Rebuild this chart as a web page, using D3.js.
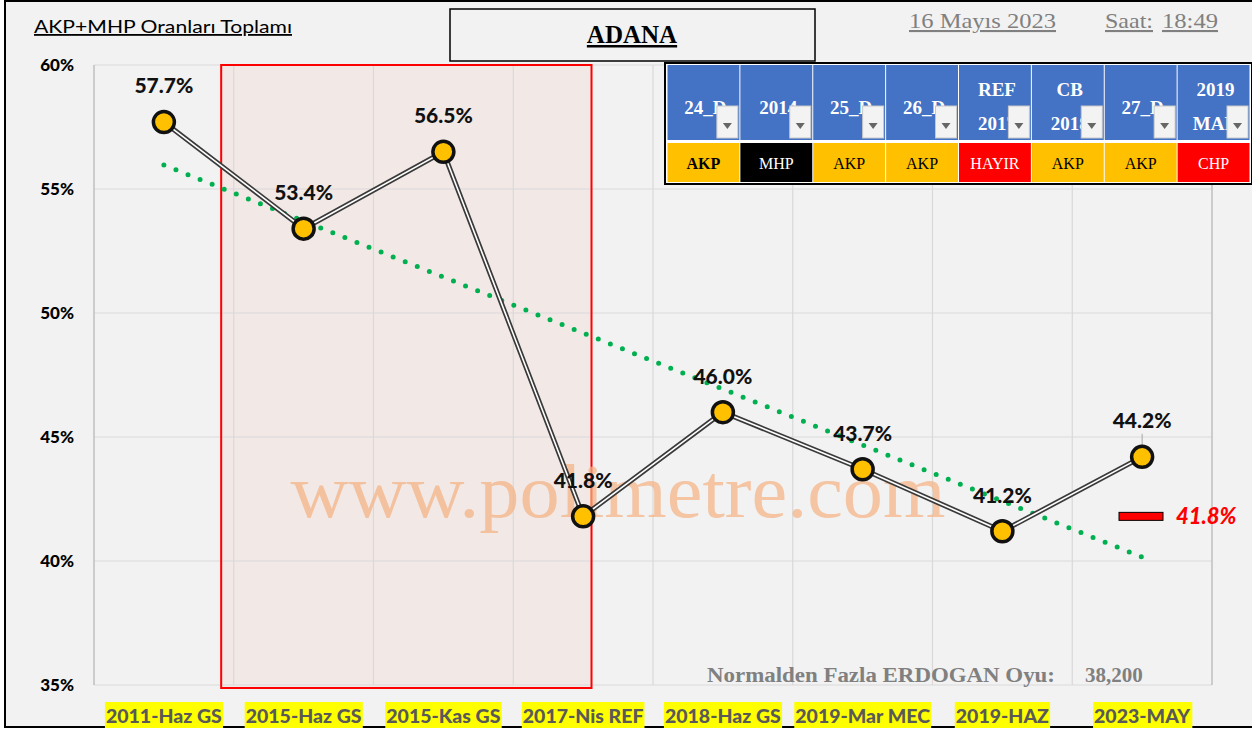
<!DOCTYPE html>
<html>
<head>
<meta charset="utf-8">
<script src="https://cdn.jsdelivr.net/npm/d3@7"></script>
<style>
  body { margin: 0; background: #fff; }
  svg { display: block; }
</style>
</head>
<body>
<svg width="1252" height="731"></svg>
<script>
const categories = ["2011-Haz GS", "2015-Haz GS", "2015-Kas GS", "2017-Nis REF",
                    "2018-Haz GS", "2019-Mar MEC", "2019-HAZ", "2023-MAY"];
const values = [57.7, 53.4, 56.5, 41.8, 46.0, 43.7, 41.2, 44.2];
const yTicks = [35, 40, 45, 50, 55, 60];

const tableHeaders = [["24_D"], ["2014"], ["25_D"], ["26_D"], ["REF", "2017"], ["CB", "2018"], ["27_D"], ["2019", "MAR"]];
const tableWinners = ["AKP", "MHP", "AKP", "AKP", "HAYIR", "AKP", "AKP", "CHP"];
const winnerColors = {"AKP": "#FFC000", "MHP": "#000000", "HAYIR": "#FF0000", "CHP": "#FF0000"};

const refValue = 41.8;
const extraVotes = "38,200";

const svg = d3.select("svg");
const sans = "Lato, 'Open Sans', sans-serif";
const serif = "'Liberation Serif', 'DejaVu Serif', serif";

// background + outer frame
svg.append("rect").attr("x", 0).attr("y", 0).attr("width", 1252).attr("height", 731).attr("fill", "#fff");
svg.append("rect").attr("x", 5).attr("y", 1).attr("width", 1250).attr("height", 726)
    .attr("fill", "#f2f2f2").attr("stroke", "#000").attr("stroke-width", 2);

const xScale = d3.scaleBand()
    .domain(categories)
    .range([94, 1212]);

const yScale = d3.scaleLinear()
    .domain([35, 60])
    .range([685, 65]);

const xc = d => xScale(d) + xScale.bandwidth() / 2;

// index scale for annotation shapes
const xi = d3.scaleLinear().domain([-0.5, categories.length - 0.5]).range([94, 1212]);

// red highlight box (fill)
svg.append("rect")
    .attr("x", xi(0.41)).attr("y", yScale(60))
    .attr("width", xi(3.06) - xi(0.41)).attr("height", yScale(35) - yScale(60) + 3)
    .attr("fill", "#f2e9e6");

// gridlines
const grid = svg.append("g");
grid.selectAll("line.h").data(yTicks).enter().append("line")
    .attr("x1", 94).attr("x2", 1212)
    .attr("y1", d => yScale(d)).attr("y2", d => yScale(d))
    .attr("stroke", "#d9d9d9").attr("stroke-width", 1.2);
grid.selectAll("line.v").data(categories.slice(1)).enter().append("line")
    .attr("x1", d => xScale(d)).attr("x2", d => xScale(d))
    .attr("y1", yScale(60)).attr("y2", yScale(35))
    .attr("stroke", "#d9d9d9").attr("stroke-width", 1.2);
// plot area sides
[94, 1212].forEach(x => {
    svg.append("line").attr("x1", x).attr("x2", x)
        .attr("y1", yScale(60)).attr("y2", yScale(35))
        .attr("stroke", "#bfbfbf").attr("stroke-width", 1.5);
});

svg.append("rect")
    .attr("x", xi(0.41)).attr("y", yScale(60))
    .attr("width", xi(3.06) - xi(0.41)).attr("height", yScale(35) - yScale(60) + 3)
    .attr("fill", "none").attr("stroke", "#ff0000").attr("stroke-width", 2);

// y axis labels
svg.append("g").selectAll("text").data(yTicks).enter().append("text")
    .attr("x", 74).attr("y", d => yScale(d))
    .attr("dy", "0.35em")
    .attr("text-anchor", "end")
    .attr("font-family", sans).attr("font-weight", 900).attr("font-size", 17)
    .attr("fill", "#000")
    .text(d => d + "%");

// watermark
svg.append("text")
    .attr("x", 618).attr("y", 517)
    .attr("text-anchor", "middle")
    .attr("font-family", serif).attr("font-size", 76)
    .attr("fill", "#f4b183").attr("fill-opacity", 0.72)
    .attr("textLength", 655).attr("lengthAdjust", "spacingAndGlyphs")
    .text("www.polimetre.com");

// linear trend line (least squares)
const mx = d3.mean(values, (d, i) => i);
const my = d3.mean(values);
const slope = d3.sum(values, (d, i) => (i - mx) * (d - my)) / d3.sum(values, (d, i) => (i - mx) ** 2);
const trend = values.map((d, i) => my + slope * (i - mx));
svg.append("path")
    .datum(trend)
    .attr("d", d3.line().x((d, i) => xc(categories[i])).y(d => yScale(d)))
    .attr("fill", "none")
    .attr("stroke", "#00b050").attr("stroke-width", 5)
    .attr("stroke-linecap", "round")
    .attr("stroke-dasharray", "0 13");

// double line
const line = d3.line().x((d, i) => xc(categories[i])).y(d => yScale(d));
svg.append("path").datum(values).attr("d", line)
    .attr("fill", "none").attr("stroke", "#3a3a3a").attr("stroke-width", 5);
svg.append("path").datum(values).attr("d", line)
    .attr("fill", "none").attr("stroke", "#ffffff").attr("stroke-width", 1.6);

// leader line for last label
svg.append("line")
    .attr("x1", xc(categories[7])).attr("x2", xc(categories[7]))
    .attr("y1", yScale(values[7]) - 23).attr("y2", yScale(values[7]) - 4)
    .attr("stroke", "#a6a6a6").attr("stroke-width", 1);

// markers
svg.append("g").selectAll("circle").data(values).enter().append("circle")
    .attr("cx", (d, i) => xc(categories[i]))
    .attr("cy", d => yScale(d))
    .attr("r", 10.5)
    .attr("fill", "#FFC000").attr("stroke", "#111").attr("stroke-width", 3.5);

// data labels
svg.append("g").selectAll("text").data(values).enter().append("text")
    .attr("x", (d, i) => xc(categories[i]))
    .attr("y", d => yScale(d) - 36)
    .attr("dy", "0.35em")
    .attr("text-anchor", "middle")
    .attr("font-family", sans).attr("font-weight", 900).attr("font-size", 21)
    .attr("fill", "#111")
    .text(d => d.toFixed(1) + "%");

// x axis labels with yellow highlight
const xl = svg.append("g").selectAll("g").data(categories).enter().append("g");
xl.append("text")
    .attr("x", d => xc(d)).attr("y", 716)
    .attr("dy", "0.35em")
    .attr("text-anchor", "middle")
    .attr("font-family", sans).attr("font-weight", 900).attr("font-size", 19.5)
    .attr("fill", "#595959")
    .text(d => d);
xl.each(function () {
    const g = d3.select(this);
    const bb = g.select("text").node().getBBox();
    g.insert("rect", "text")
        .attr("x", bb.x - 1).attr("y", 702)
        .attr("width", bb.width + 2).attr("height", 26)
        .attr("fill", "#ffff00");
});

// reference marker at right
svg.append("rect")
    .attr("x", 1119).attr("y", yScale(refValue) - 4)
    .attr("width", 44).attr("height", 8)
    .attr("fill", "#ff0000").attr("stroke", "#000").attr("stroke-width", 1);
svg.append("text")
    .attr("x", 1176).attr("y", yScale(refValue))
    .attr("dy", "0.35em")
    .attr("font-family", sans).attr("font-weight", 900).attr("font-style", "italic")
    .attr("font-size", 22)
    .attr("fill", "#ff0000")
    .text(refValue.toFixed(1) + "%");

// bottom note
svg.append("text")
    .attr("x", 707).attr("y", 682)
    .attr("font-family", serif).attr("font-weight", "bold").attr("font-size", 20)
    .attr("fill", "#808080")
    .attr("textLength", 348).attr("lengthAdjust", "spacingAndGlyphs")
    .text("Normalden Fazla ERDOGAN Oyu:");
svg.append("text")
    .attr("x", 1085).attr("y", 682)
    .attr("font-family", serif).attr("font-weight", "bold").attr("font-size", 21)
    .attr("fill", "#808080")
    .text(extraVotes);

// title
svg.append("text")
    .attr("x", 34).attr("y", 33)
    .attr("font-family", sans).attr("font-size", 18)
    .attr("fill", "#000")
    .attr("text-decoration", "underline")
    .attr("textLength", 258).attr("lengthAdjust", "spacingAndGlyphs")
    .text("AKP+MHP Oranları Toplamı");

// ADANA box
svg.append("rect")
    .attr("x", 450).attr("y", 9).attr("width", 365).attr("height", 52)
    .attr("fill", "#f2f2f2").attr("stroke", "#000").attr("stroke-width", 1.5);
svg.append("text")
    .attr("x", 632).attr("y", 43)
    .attr("text-anchor", "middle")
    .attr("font-family", serif).attr("font-weight", "bold").attr("font-size", 25)
    .attr("fill", "#000")
    .attr("text-decoration", "underline")
    .text("ADANA");

// date / time
const dt = [["16 Mayıs 2023", 909, 147], ["Saat:", 1105, 48], ["18:49", 1162, 56]];
svg.append("g").selectAll("text").data(dt).enter().append("text")
    .attr("x", d => d[1]).attr("y", 28)
    .attr("font-family", serif).attr("font-size", 21)
    .attr("fill", "#808080")
    .attr("text-decoration", "underline")
    .attr("textLength", d => d[2]).attr("lengthAdjust", "spacingAndGlyphs")
    .text(d => d[0]);

// election table
const tx = d3.scaleBand().domain(d3.range(tableHeaders.length)).range([667, 1250]);
const table = svg.append("g");
table.append("rect")
    .attr("x", 665).attr("y", 63).attr("width", 587).attr("height", 121)
    .attr("fill", "#ffffff").attr("stroke", "#000").attr("stroke-width", 2);
const cols = table.selectAll("g").data(tableHeaders).enter().append("g");
cols.append("rect")
    .attr("x", (d, i) => tx(i) + 0.5).attr("y", 65)
    .attr("width", tx.bandwidth() - 1).attr("height", 75)
    .attr("fill", "#4472C4");
cols.each(function (d, i) {
    const g = d3.select(this);
    const cx = tx(i) + tx.bandwidth() / 2;
    const ys = d.length === 1 ? [107] : [89, 123];
    d.forEach((t, k) => {
        g.append("text")
            .attr("x", cx + 2).attr("y", ys[k])
            .attr("dy", "0.35em")
            .attr("text-anchor", "middle")
            .attr("font-family", serif).attr("font-weight", "bold").attr("font-size", 19)
            .attr("fill", "#fff")
            .text(t);
    });
    // dropdown button
    const bx = tx(i) + tx.bandwidth() - 23;
    g.append("rect")
        .attr("x", bx).attr("y", 106).attr("width", 21).attr("height", 32)
        .attr("fill", "#f3f3f3").attr("stroke", "#c8c8c8").attr("stroke-width", 1);
    g.append("path")
        .attr("d", `M${bx + 6},${123} L${bx + 15},${123} L${bx + 10.5},${129} Z`)
        .attr("fill", "#666");
});
cols.append("rect")
    .attr("x", (d, i) => tx(i) + 0.5).attr("y", 143)
    .attr("width", tx.bandwidth() - 1).attr("height", 39)
    .attr("fill", (d, i) => winnerColors[tableWinners[i]]);
cols.append("text")
    .attr("x", (d, i) => tx(i) + tx.bandwidth() / 2).attr("y", 163)
    .attr("dy", "0.35em")
    .attr("text-anchor", "middle")
    .attr("font-family", serif).attr("font-size", 16)
    .attr("font-weight", (d, i) => i === 0 ? "bold" : "normal")
    .attr("fill", (d, i) => tableWinners[i] === "AKP" ? "#000" : "#fff")
    .text((d, i) => tableWinners[i]);
</script>
</body>
</html>
